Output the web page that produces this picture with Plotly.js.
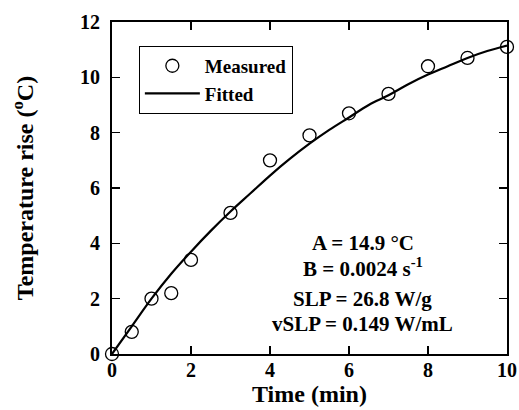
<!DOCTYPE html>
<html><head><meta charset="utf-8">
<script src="https://cdn.plot.ly/plotly-3.0.1.min.js"></script>
<style>html,body{margin:0;padding:0;background:#fff}#g{width:519px;height:410px}</style>
</head><body><div id="g"></div>
<script>
const measuredTime = [0, 0.5, 1, 1.5, 2, 3, 4, 5, 6, 7, 8, 9, 10];
const measuredRise = [0, 0.8, 2.0, 2.2, 3.4, 5.1, 7.0, 7.9, 8.7, 9.4, 10.4, 10.7, 11.1];
const fittedTime = [0, 0.5, 1, 1.5, 2, 2.5, 3, 3.5, 4, 4.5, 5, 5.5, 6, 6.5, 7, 7.5, 8, 8.5, 9, 9.5, 10];
const fittedRise = [0, 1.0, 2.0, 2.9, 3.7, 4.45, 5.15, 5.8, 6.45, 7.05, 7.6, 8.1, 8.55, 9.0, 9.35, 9.75, 10.1, 10.4, 10.7, 10.95, 11.15];
const xTicks = [0, 2, 4, 6, 8, 10];
const yTicks = [0, 2, 4, 6, 8, 10, 12];
const fitLabels = ["A = 14.9 °C", "B = 0.0024 s<sup>-1</sup>", "SLP = 26.8 W/g", "vSLP = 0.149 W/mL"];
const fitLabelY = [4.0, 3.13, 2.0, 1.1];

const F = "Liberation Serif, Times New Roman, serif";
const traces = [
  {x: measuredTime, y: measuredRise, mode: 'markers', name: '<b>Measured</b>',
   marker: {symbol: 'circle-open', size: 13, color: '#000', line: {width: 1.3, color: '#000'}}, cliponaxis: false},
  {x: fittedTime, y: fittedRise, mode: 'lines', name: '<b>Fitted</b>', line: {color: '#000', width: 2.2, shape: 'spline'}}
];
const axBase = {showgrid: false, zeroline: false, showline: true, linecolor: '#000', linewidth: 2,
  mirror: 'ticks', ticks: 'inside', ticklen: 8, tickwidth: 1.5, tickcolor: '#000',
  tickfont: {family: F, size: 20, color: '#000'}};
const layout = {
  width: 519, height: 410, paper_bgcolor: '#fff', plot_bgcolor: '#fff',
  margin: {l: 112, r: 12, t: 22, b: 56},
  font: {family: F, color: '#000'},
  xaxis: Object.assign({}, axBase, {range: [0, 10], tickvals: xTicks, ticktext: xTicks.map(v => '<b>' + v + '</b>'),
    ticklabelstandoff: -3,
    title: {text: '<b>Time (min)</b>', font: {family: F, size: 24, color: '#000'}, standoff: 2}}),
  yaxis: Object.assign({}, axBase, {range: [0, 12], tickvals: yTicks, ticktext: yTicks.map(v => '<b>' + v + '</b>'),
    ticklabelstandoff: 6,
    title: {text: '<b>Temperature rise (<sup>o</sup>C)</b>', font: {family: F, size: 24, color: '#000'}, standoff: 40}}),
  showlegend: true,
  legend: {x: 0.068, y: 0.928, xanchor: 'left', yanchor: 'top', bgcolor: '#fff', bordercolor: '#000', borderwidth: 1,
    font: {family: F, size: 19, color: '#000'}, tracegroupgap: 0, itemwidth: 55},
  annotations: fitLabels.map((t, i) => ({x: 6.35, y: fitLabelY[i], xref: 'x', yref: 'y', text: '<b>' + t + '</b>',
    showarrow: false, font: {family: F, size: 21, color: '#000'}, xanchor: 'center', yanchor: 'middle'}))
};
Plotly.newPlot('g', traces, layout, {displayModeBar: false, staticPlot: true});
</script></body></html>
